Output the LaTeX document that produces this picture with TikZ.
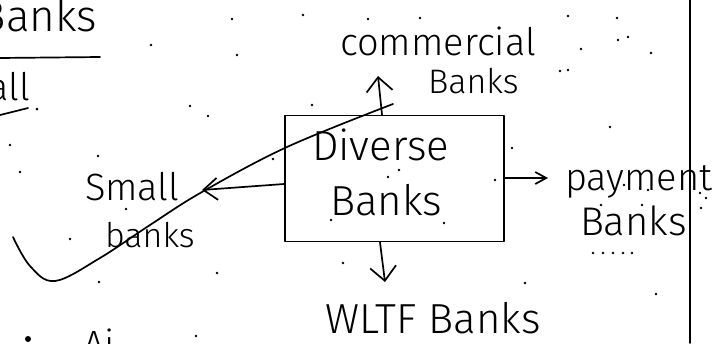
\documentclass[tikz,border=0pt]{standalone}
\usepackage{fontspec}
\setmainfont{Fira Sans Light}
\usetikzlibrary{arrows.meta}

\tikzset{
  pen/.style={line width=1.7pt, line cap=round, line join=round},
  hand/.style={inner sep=0pt, outer sep=0pt},
  bigarr/.style={pen, -{Straight Barb[length=14pt,width=26pt,line width=1.7pt]}},
  smallarr/.style={pen, -{Straight Barb[length=11pt,width=12pt,line width=1.7pt]}},
  boxed/.style={pen, draw, minimum width=219pt, minimum height=126pt, inner sep=0pt},
  speck/.style={fill=black, circle, inner sep=0pt, minimum size=3pt}
}

\begin{document}
\begin{tikzpicture}[x=1pt, y=-1pt]
\useasboundingbox (0,0) rectangle (712,343);
\clip (0,0) rectangle (712,343);

% page margin rule
\draw[pen] (690,0) -- (690,343);

% headings at the top left, cut by the page edge
\node[hand, anchor=base east, font=\fontsize{44}{46}\selectfont] (head) at (97,31) {Banks};
\draw[pen] (0,58) -- (100,57);
\node[hand, anchor=base east, font=\fontsize{38}{40}\selectfont] (sub) at (30,100) {Small};
\draw[pen] (0,115) -- (28,108);
\node[speck] (subdot) at (37,109) {};

% central box
\node[boxed] (div) at (394.5,178.5) {};
\node[hand, anchor=base west, font=\fontsize{42}{44}\selectfont] (divA) at (312,160) {Diverse};
\node[hand, anchor=base west, font=\fontsize{42}{44}\selectfont] (divB) at (330,215) {Banks};

% surrounding labels
\node[hand, anchor=base west, font=\fontsize{38}{40}\selectfont] (comA) at (340,55) {commercial};
\node[hand, anchor=base west, font=\fontsize{34}{36}\selectfont] (comB) at (428,93) {Banks};
\node[hand, anchor=base west, font=\fontsize{38}{40}\selectfont] (smA) at (85,200) {Small};
\node[hand, anchor=base west, font=\fontsize{34}{36}\selectfont] (smB) at (105,247) {banks};
\node[hand, anchor=base west, font=\fontsize{38}{40}\selectfont] (payA) at (565,190) {payment};
\node[hand, anchor=base west, font=\fontsize{40}{42}\selectfont] (payB) at (580,235) {Banks};
\node[hand, anchor=base west, font=\fontsize{42}{44}\selectfont] (wltf) at (325,333) {WLTF Banks};
\node[hand, anchor=base west, font=\fontsize{38}{40}\selectfont] (foot) at (83,357) {Ai};
\node[speck, minimum size=6pt] (footdot) at (28,339) {};

% arrow end points
\coordinate (upTip) at (378,76);
\coordinate (rightTip) at (548,178);
\coordinate (downTip) at (385,282);
\coordinate (leftTip) at (202,190);

% arrows out of the box
\draw[bigarr] (div.north -| 382,0) -- (upTip);
\draw[smallarr] (div.east |- rightTip) -- (rightTip);
\draw[bigarr] (div.south -| 380,0) -- (downTip);
\draw[pen, -{Straight Barb[length=14pt,width=22pt,line width=1.7pt]}] (div.west |- 0,184) -- (leftTip);

% long sweeping stroke through the arrow tip
\draw[pen] plot[smooth, tension=0.6] coordinates
  {(13,237) (30,266) (55,281) (100,258) (150,225) (202,192) (287,147) (393,104)};

% dots scattered over the sheet
\foreach \p in {(232,19),(151,45),(237,55),(190,106),(208,116),(303,15),(368,19),(420,18),
  (312,105),(568,16),(617,18),(618,40),(628,37),(581,49),(651,53),(560,71),(568,70),
  (10,145),(20,172),(98,156),(126,209),(70,239),(99,282),(217,273),(196,336),
  (273,159),(399,170),(388,177),(331,220),(444,223),(343,263),(610,127),(512,148),
  (495,180),(525,283),(656,294),(593,253),(603,253),(613,253),(623,253),(632,253),
  (640,188),(648,190),(700,193),(706,198),(701,208),(642,205),(601,205),(624,185)}
  \fill \p circle (1.4pt);
\end{tikzpicture}
\end{document}
